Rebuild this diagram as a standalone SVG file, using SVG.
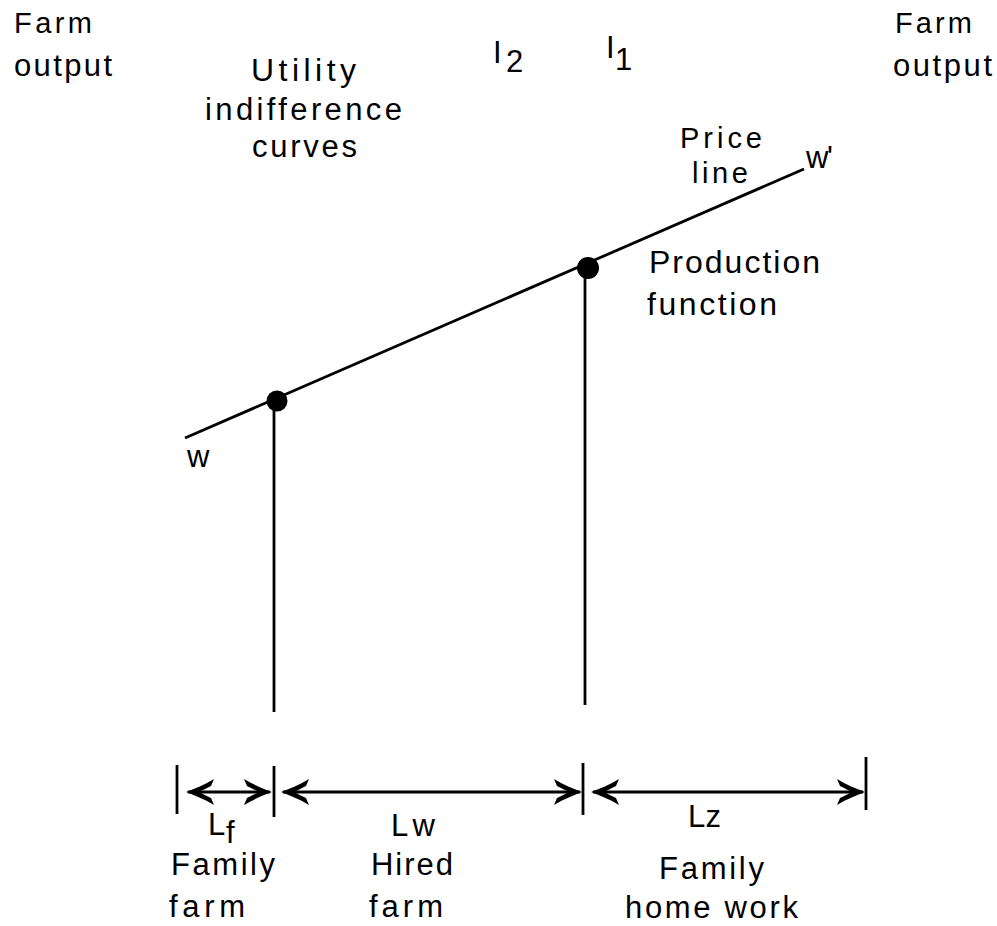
<svg xmlns="http://www.w3.org/2000/svg" xmlns:xlink="http://www.w3.org/1999/xlink" width="997" height="926" viewBox="0 0 997 926">
<style>
text{font-family:"Liberation Sans",Arial,sans-serif;font-size:31px;fill:#000}
.s29{font-size:29px}
.s32{font-size:32px}
line{stroke:#000;stroke-width:2.8}
.head{fill:#000}
</style>
<defs>
<path id="head" class="head" d="M0,0 C-8,-3 -18,-7 -28,-13 L-25,-6 C-20,-3.5 -16,-1.5 -13,0 C-16,1.5 -20,3.5 -25,6 L-28,13 C-18,7 -8,3 0,0 Z"/>
</defs>
<rect width="997" height="926" fill="#fff"/>
<g id="connectors">
<line x1="185" y1="438" x2="804" y2="169"/>
<line x1="274" y1="401" x2="274" y2="712"/>
<line x1="585" y1="268" x2="585" y2="705"/>
<line x1="177" y1="765" x2="177" y2="814"/>
<line x1="274" y1="766" x2="274" y2="817"/>
<line x1="583" y1="763" x2="583" y2="815"/>
<line x1="866" y1="757" x2="866" y2="810"/>
<line x1="188" y1="792" x2="270" y2="792"/>
<line x1="283" y1="792" x2="580" y2="792"/>
<line x1="593" y1="792" x2="863" y2="792"/>
<use href="#head" xlink:href="#head" transform="translate(186,792) scale(-1,1)"/>
<use href="#head" xlink:href="#head" transform="translate(272,792)"/>
<use href="#head" xlink:href="#head" transform="translate(281,792) scale(-1,1)"/>
<use href="#head" xlink:href="#head" transform="translate(582,792)"/>
<use href="#head" xlink:href="#head" transform="translate(591,792) scale(-1,1)"/>
<use href="#head" xlink:href="#head" transform="translate(865,792)"/>
</g>
<g id="dot1"><circle cx="277" cy="401" r="10.5" fill="#000"/></g>
<g id="dot2"><circle cx="588" cy="268" r="11" fill="#000"/></g>
<g id="farm-output-left"><text class="s29" x="14" y="33" textLength="78" lengthAdjust="spacing">Farm</text><text x="14" y="76" textLength="98" lengthAdjust="spacing">output</text></g>
<g id="farm-output-right"><text class="s29" x="895" y="33" textLength="77" lengthAdjust="spacing">Farm</text><text x="893" y="76" textLength="99" lengthAdjust="spacing">output</text></g>
<g id="utility"><text class="s32" x="251" y="81" textLength="105" lengthAdjust="spacing">Utility</text><text x="205" y="120" textLength="197" lengthAdjust="spacing">indifference</text><text x="252" y="157" textLength="105" lengthAdjust="spacing">curves</text></g>
<g id="I2"><text x="493" y="63">I</text><text x="506" y="72">2</text></g>
<g id="I1"><text x="606" y="58">I</text><text x="615" y="70">1</text></g>
<g id="price-line"><text class="s29" x="680" y="148" textLength="82" lengthAdjust="spacing">Price</text><text class="s29" x="692" y="183" textLength="56" lengthAdjust="spacing">line</text></g>
<g id="wprime"><text x="806" y="168" textLength="27" lengthAdjust="spacing">w'</text></g>
<g id="production"><text class="s32" x="649" y="273" textLength="171" lengthAdjust="spacing">Production</text><text class="s32" x="647" y="315" textLength="130" lengthAdjust="spacing">function</text></g>
<g id="w"><text x="187" y="467">w</text></g>
<g id="Lf"><text x="208" y="835">L</text><text x="226" y="843">f</text></g>
<g id="Lw"><text x="391" y="836" textLength="44" lengthAdjust="spacing">Lw</text></g>
<g id="Lz"><text x="688" y="827" textLength="33" lengthAdjust="spacing">Lz</text></g>
<g id="family-farm"><text x="171" y="875" textLength="104" lengthAdjust="spacing">Family</text><text x="169" y="917" textLength="76" lengthAdjust="spacing">farm</text></g>
<g id="hired-farm"><text x="371" y="875" textLength="82" lengthAdjust="spacing">Hired</text><text x="369" y="917" textLength="74" lengthAdjust="spacing">farm</text></g>
<g id="family-home"><text x="659" y="879" textLength="105" lengthAdjust="spacing">Family</text><text x="625" y="918" textLength="173" lengthAdjust="spacing">home  work</text></g>
</svg>
